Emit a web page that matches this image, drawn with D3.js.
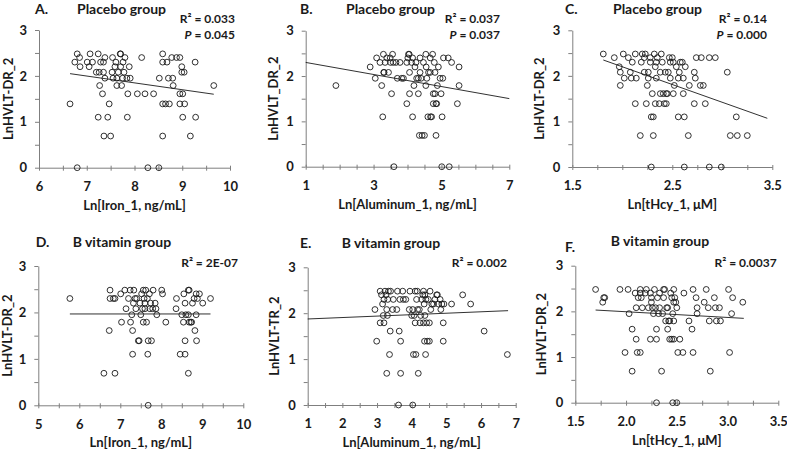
<!DOCTYPE html>
<html><head><meta charset="utf-8">
<script src="https://cdn.jsdelivr.net/npm/d3@7"></script>
<style>
html,body{margin:0;padding:0;background:#fff;}
svg text{font-family:Lato,"Open Sans",sans-serif;font-weight:bold;fill:#1a1a1a;}
</style></head>
<body>
<svg id="chart" width="787" height="449"></svg>
<script>
// ---------- DATA ----------
const panelLetters = ["A.", "B.", "C.", "D.", "E.", "F."];
const groupTitles = ["Placebo group", "Placebo group", "Placebo group", "B vitamin group", "B vitamin group", "B vitamin group"];
const yLabels = ["LnHVLT-DR_2", "LnHVLT_DR_2", "LnHVLT-DR_2", "LnHVLT-DR_2", "LnHVLT-TR_2", "LnHVLT-DR_2"];
const xLabels = ["Ln[Iron_1, ng/mL]", "Ln[Aluminum_1, ng/mL]", "Ln[tHcy_1, \u03bcM]", "Ln[Iron_1, ng/mL]", "Ln[Aluminum_1, ng/mL]", "Ln[tHcy_1, \u03bcM]"];
const r2Labels = ["0.033", "0.037", "0.14", "2E-07", "0.002", "0.0037"];
const pLabels = ["0.045", "0.037", "0.000", null, null, null];

const xDomains = [[6, 10], [1, 7], [1.5, 3.5], [5, 10], [1, 7], [1.5, 3.5]];
const xMajorTicks = [[6, 7, 8, 9, 10], [1, 3, 5, 7], [1.5, 2.5, 3.5], [5, 6, 7, 8, 9, 10], [1, 2, 3, 4, 5, 6, 7], [1.5, 2.0, 2.5, 3.0, 3.5]];
const xTickFormats = [".0f", ".0f", ".1f", ".0f", ".0f", ".1f"];
const xMinorSteps = [0.5, 0.5, 0.25, 0.5, 0.5, 0.25];
const yDomain = [0, 3];
const yMajorTicks = [0, 1, 2, 3];
const yMinorTicks = [0, 0.5, 1, 1.5, 2, 2.5, 3];

// fitted regression lines: intercept, slope, x-range
const fitIntercepts = [3.04, 2.433, 3.76, 1.967, 1.843, 2.241];
const fitSlopes = [-0.149, -0.133, -0.78, 0, 0.0313, -0.1247];
const fitRanges = [[6.65, 9.66], [1, 7], [1.81, 3.45], [5.77, 9.20], [1, 6.78], [1.70, 3.16]];

const placeboIron = [[6.65,1.39],[6.80,0],[6.80,2.48],[6.85,2.40],[6.75,2.30],[6.86,2.20],[7.01,2.30],[7.07,2.48],[7.05,2.20],[7.12,2.30],[7.24,2.48],[7.26,2.08],[7.29,2.30],[7.27,1.79],[7.24,1.10],[7.33,1.61],[7.35,2.08],[7.36,0.69],[7.38,2.40],[7.38,1.95],[7.35,2.30],[7.44,1.10],[7.47,1.39],[7.50,0.69],[7.53,2.08],[7.54,2.40],[7.55,1.95],[7.59,2.20],[7.61,2.30],[7.63,1.95],[7.63,1.79],[7.66,2.08],[7.71,2.48],[7.71,2.20],[7.73,1.79],[7.75,1.95],[7.76,2.30],[7.78,2.08],[7.80,2.40],[7.84,1.95],[7.85,1.10],[7.86,1.61],[7.89,2.20],[7.91,1.95],[8.06,1.61],[8.15,2.40],[8.22,1.61],[8.28,0],[8.40,1.61],[8.51,0],[8.52,1.95],[8.59,2.48],[8.59,2.30],[8.59,1.39],[8.59,0.69],[8.65,1.39],[8.68,2.30],[8.73,1.39],[8.71,1.95],[8.78,2.40],[8.80,1.95],[8.81,1.79],[8.88,2.40],[8.95,2.40],[8.95,1.61],[8.95,1.39],[8.99,2.20],[8.99,2.08],[9.01,1.61],[9.01,1.10],[9.04,2.08],[9.05,1.39],[9.17,0.69],[9.27,2.30],[9.28,1.10],[9.66,1.79],[7.20,2.08],[7.70,2.48]];

const placeboAluminum = [[1.89,1.79],[2.90,2.20],[3.05,1.95],[3.09,2.40],[3.19,2.30],[3.24,1.79],[3.27,1.10],[3.29,2.48],[3.31,2.08],[3.34,2.30],[3.39,2.40],[3.44,2.08],[3.49,2.40],[3.50,2.30],[3.53,1.61],[3.56,2.48],[3.60,0],[3.58,2.30],[3.66,2.30],[3.70,1.95],[3.78,2.30],[3.83,1.95],[3.88,1.95],[3.98,1.39],[4.01,2.40],[4.03,2.48],[3.98,2.30],[4.06,2.08],[4.06,1.61],[4.12,2.30],[4.15,2.40],[4.15,1.10],[4.19,1.79],[4.22,2.20],[4.25,2.30],[4.27,1.95],[4.32,1.61],[4.32,1.95],[4.35,0.69],[4.37,2.08],[4.37,2.40],[4.40,1.95],[4.43,0.69],[4.47,2.30],[4.50,0.69],[4.54,2.48],[4.54,1.79],[4.55,2.20],[4.57,1.95],[4.60,1.10],[4.62,2.08],[4.67,2.08],[4.67,2.40],[4.68,1.10],[4.71,1.10],[4.74,2.48],[4.76,1.61],[4.76,1.39],[4.79,2.30],[4.81,1.61],[4.81,2.08],[4.84,1.39],[4.84,0.69],[4.86,1.39],[4.88,1.79],[4.91,2.20],[4.96,1.95],[4.99,1.61],[5.01,0],[5.02,1.10],[5.04,1.95],[5.06,2.40],[5.20,2.40],[5.23,0],[5.30,2.30],[5.47,1.39],[5.52,2.20],[5.52,1.79],[3.30,2.08],[4.05,2.48]];

const placeboHcy = [[1.81,2.48],[1.92,2.40],[1.97,2.20],[1.98,2.08],[1.98,1.79],[2.01,2.48],[2.02,1.95],[2.06,2.40],[2.08,2.08],[2.09,1.95],[2.10,2.30],[2.13,2.48],[2.13,1.39],[2.14,1.95],[2.18,0.69],[2.19,2.30],[2.20,2.48],[2.22,2.08],[2.22,2.40],[2.23,2.48],[2.24,1.39],[2.25,1.79],[2.26,2.08],[2.26,1.95],[2.28,2.30],[2.28,2.40],[2.29,1.10],[2.29,0],[2.30,1.61],[2.31,1.10],[2.31,0.69],[2.32,2.48],[2.33,2.20],[2.33,1.39],[2.34,2.30],[2.34,1.95],[2.35,2.40],[2.37,1.39],[2.38,1.61],[2.38,2.08],[2.39,2.48],[2.40,2.30],[2.41,1.61],[2.42,1.39],[2.43,2.08],[2.44,1.39],[2.44,1.61],[2.45,1.61],[2.46,2.08],[2.47,2.40],[2.48,2.30],[2.48,1.95],[2.50,2.40],[2.51,2.30],[2.51,1.61],[2.52,1.79],[2.54,2.20],[2.56,1.95],[2.56,1.10],[2.57,2.08],[2.58,2.30],[2.60,2.30],[2.61,1.95],[2.61,1.61],[2.62,0],[2.62,1.10],[2.63,2.20],[2.66,0.69],[2.67,1.79],[2.72,1.39],[2.72,2.08],[2.73,1.95],[2.74,2.40],[2.78,1.79],[2.79,2.40],[2.81,1.79],[2.83,1.39],[2.87,0],[2.87,2.40],[2.93,2.40],[2.99,0],[3.05,2.08],[3.08,0.69],[3.14,1.10],[3.15,0.69],[3.25,0.69]];

const vitaminIron = [[5.77,2.30],[6.60,0.69],[6.73,1.61],[6.75,2.48],[6.75,2.30],[6.83,2.30],[6.87,0.69],[6.87,2.30],[7.01,2.40],[7.03,1.79],[7.11,2.48],[7.14,2.08],[7.20,2.30],[7.24,2.48],[7.25,1.79],[7.28,1.95],[7.30,1.61],[7.30,1.10],[7.32,2.20],[7.33,2.48],[7.36,2.30],[7.38,2.08],[7.40,2.30],[7.44,1.39],[7.46,1.39],[7.48,2.20],[7.50,1.95],[7.52,2.40],[7.54,2.08],[7.56,2.48],[7.56,1.79],[7.58,2.30],[7.60,2.20],[7.60,2.08],[7.62,2.48],[7.64,1.79],[7.66,2.30],[7.67,1.10],[7.68,0],[7.68,1.39],[7.71,2.40],[7.72,2.08],[7.74,2.20],[7.76,1.39],[7.79,2.08],[7.80,2.48],[7.85,2.20],[7.87,2.08],[7.89,1.95],[8.01,2.48],[8.03,2.40],[8.11,1.79],[8.36,2.08],[8.37,2.30],[8.46,1.10],[8.50,1.95],[8.54,1.79],[8.55,2.40],[8.58,1.10],[8.58,1.39],[8.58,2.20],[8.60,1.95],[8.66,2.48],[8.68,2.48],[8.66,0.69],[8.66,1.95],[8.68,1.79],[8.72,1.79],[8.74,1.79],[8.76,2.20],[8.80,2.30],[8.82,1.61],[8.85,1.95],[8.85,2.40],[8.86,1.39],[8.88,2.30],[8.93,2.40],[9.01,2.20],[9.20,2.30]];

const vitaminAluminum = [[2.94,2.08],[2.99,1.39],[3.09,1.79],[3.09,2.48],[3.13,2.40],[3.16,2.20],[3.18,1.95],[3.20,1.79],[3.20,2.30],[3.23,2.48],[3.26,2.40],[3.28,0.69],[3.28,2.08],[3.30,1.95],[3.31,2.30],[3.33,2.48],[3.36,1.10],[3.38,1.61],[3.39,2.48],[3.45,2.08],[3.47,2.30],[3.57,2.08],[3.59,2.48],[3.62,0],[3.64,1.61],[3.66,2.30],[3.68,1.39],[3.68,0.69],[3.74,2.48],[3.76,2.30],[3.83,2.30],[3.93,2.08],[3.95,2.48],[4.00,1.95],[4.03,2.08],[4.10,1.79],[4.03,0],[4.05,1.10],[4.07,1.95],[4.10,2.48],[4.12,1.10],[4.14,2.30],[4.16,2.48],[4.17,2.08],[4.19,0.69],[4.22,2.08],[4.24,1.79],[4.26,1.95],[4.29,2.30],[4.32,2.40],[4.34,2.48],[4.34,1.79],[4.36,2.20],[4.37,1.39],[4.38,1.95],[4.38,2.40],[4.40,1.10],[4.41,2.30],[4.43,1.79],[4.45,1.39],[4.48,2.30],[4.51,1.79],[4.51,1.39],[4.53,2.48],[4.55,2.08],[4.58,2.20],[4.63,2.20],[4.67,2.30],[4.72,2.40],[4.74,2.40],[4.77,2.20],[4.82,2.30],[4.84,2.08],[4.87,2.20],[4.91,1.79],[4.91,1.39],[4.93,2.20],[5.15,2.20],[5.47,2.40],[5.70,2.20],[6.09,1.61],[6.76,1.10]];

const vitaminHcy = [[1.70,2.48],[1.77,2.20],[1.78,2.30],[1.79,2.30],[1.94,2.48],[1.99,1.10],[2.02,2.48],[2.03,1.95],[2.06,1.61],[2.06,0.69],[2.09,2.40],[2.10,1.39],[2.10,2.08],[2.11,1.10],[2.12,2.30],[2.14,2.48],[2.14,2.40],[2.14,1.10],[2.15,2.30],[2.16,2.08],[2.19,2.40],[2.20,2.48],[2.22,2.08],[2.24,1.39],[2.24,2.40],[2.25,2.20],[2.25,2.30],[2.26,2.08],[2.27,1.95],[2.28,2.48],[2.29,2.08],[2.30,1.61],[2.30,1.39],[2.30,0],[2.31,2.30],[2.32,1.95],[2.33,2.40],[2.33,2.08],[2.35,0.69],[2.36,1.95],[2.37,2.48],[2.37,2.30],[2.38,2.48],[2.39,1.79],[2.40,2.08],[2.41,2.08],[2.41,1.61],[2.42,1.79],[2.43,1.79],[2.43,1.39],[2.44,2.40],[2.45,2.30],[2.45,1.39],[2.46,0],[2.46,1.95],[2.47,2.48],[2.47,2.20],[2.47,1.79],[2.47,1.39],[2.48,2.30],[2.49,2.20],[2.50,2.08],[2.50,0],[2.51,1.10],[2.53,1.39],[2.56,1.10],[2.57,2.40],[2.62,1.79],[2.65,1.61],[2.66,1.10],[2.66,2.48],[2.69,2.30],[2.70,2.08],[2.70,1.95],[2.77,2.20],[2.79,2.48],[2.81,2.08],[2.82,1.79],[2.83,0.69],[2.87,2.30],[2.88,2.08],[2.89,1.79],[2.92,2.08],[2.93,1.79],[3.01,2.48],[3.02,1.10],[3.05,2.30],[3.04,1.95],[3.15,2.20]];

const panelData = [placeboIron, placeboAluminum, placeboHcy, vitaminIron, vitaminAluminum, vitaminHcy];

// ---------- LAYOUT ----------
const boxes = [
  {l: 39, r: 230, t: 30, b: 167.7},
  {l: 305.7, r: 509.3, t: 30.7, b: 166.7},
  {l: 572.3, r: 772.3, t: 30.3, b: 167},
  {l: 38.3, r: 243.3, t: 266, b: 405.3},
  {l: 307.7, r: 515.7, t: 267.3, b: 405},
  {l: 575.3, r: 778.3, t: 265.7, b: 402.7}
];
const titleLayout = [
  {lx: 35, px: 77, ly: 14, py: 14, r2x: 235, r2y: 22.5, yl: 12.5},
  {lx: 300, px: 346, ly: 14, py: 14, r2x: 500, r2y: 23, yl: 278},
  {lx: 565, px: 613, ly: 14, py: 14, r2x: 767, r2y: 22.5, yl: 544},
  {lx: 35.7, px: 72.7, ly: 246.5, py: 246.5, r2x: 238, r2y: 267, yl: 12},
  {lx: 300, px: 341.7, ly: 248, py: 248, r2x: 507, r2y: 267, yl: 279},
  {lx: 565, px: 610.7, ly: 251.5, py: 245.5, r2x: 776.7, r2y: 267, yl: 545.5}
];
const axisColor = "#7f7f7f";

const svg = d3.select("#chart");

panelData.forEach((pts, i) => {
  const b = boxes[i], L = titleLayout[i];
  const x = d3.scaleLinear().domain(xDomains[i]).range([b.l, b.r]);
  const y = d3.scaleLinear().domain(yDomain).range([b.b, b.t]);
  const g = svg.append("g");

  // minor x ticks + axis line
  const minor = d3.range(xDomains[i][0], xDomains[i][1] + 1e-9, xMinorSteps[i]);
  const gx = g.append("g").attr("transform", `translate(0,${b.b})`)
    .call(d3.axisBottom(x).tickValues(minor).tickSize(3).tickSizeOuter(0).tickFormat(""));
  gx.select(".domain").attr("stroke", axisColor);
  gx.selectAll(".tick line").attr("stroke", axisColor).attr("y1", -2).attr("y2", 3);
  // x labels
  const gxl = g.append("g").attr("transform", `translate(0,${b.b})`)
    .call(d3.axisBottom(x).tickValues(xMajorTicks[i]).tickSize(0).tickPadding(14).tickFormat(d3.format(xTickFormats[i])));
  gxl.select(".domain").remove();
  gxl.selectAll("text").attr("font-size", 13).attr("font-family", "Lato, sans-serif").attr("font-weight", "bold").attr("fill", "#1a1a1a");

  // y axis
  const gy = g.append("g").attr("transform", `translate(${b.l},0)`)
    .call(d3.axisLeft(y).tickValues(yMinorTicks).tickSize(4).tickSizeOuter(0).tickFormat(""));
  gy.select(".domain").attr("stroke", axisColor);
  gy.selectAll(".tick line").attr("stroke", axisColor);
  const gyl = g.append("g").attr("transform", `translate(${b.l},0)`)
    .call(d3.axisLeft(y).tickValues(yMajorTicks).tickSize(0).tickPadding(12).tickFormat(d3.format("d")));
  gyl.select(".domain").remove();
  gyl.selectAll("text").attr("font-size", 13).attr("font-family", "Lato, sans-serif").attr("font-weight", "bold").attr("fill", "#1a1a1a");

  // points
  g.append("g").selectAll("circle").data(pts).join("circle")
    .attr("cx", d => x(d[0])).attr("cy", d => y(d[1])).attr("r", 2.9)
    .attr("fill", "none").attr("stroke", "#1a1a1a").attr("stroke-width", 0.9);

  // fit line
  const fr = fitRanges[i];
  g.append("line")
    .attr("x1", x(fr[0])).attr("y1", y(fitIntercepts[i] + fitSlopes[i] * fr[0]))
    .attr("x2", x(fr[1])).attr("y2", y(fitIntercepts[i] + fitSlopes[i] * fr[1]))
    .attr("stroke", "#1a1a1a").attr("stroke-width", 0.9);

  // titles
  g.append("text").attr("x", L.lx).attr("y", L.ly).attr("font-size", 14).text(panelLetters[i]);
  g.append("text").attr("x", L.px).attr("y", L.py).attr("font-size", 14).text(groupTitles[i]);

  // R2 and P
  g.append("text").attr("x", L.r2x).attr("y", L.r2y).attr("font-size", 12).attr("text-anchor", "end")
    .text("R\u00b2 = " + r2Labels[i]);
  if (pLabels[i]) {
    const t = g.append("text").attr("x", L.r2x).attr("y", L.r2y + 16).attr("font-size", 12).attr("text-anchor", "end");
    t.append("tspan").attr("font-style", "italic").text("P");
    t.append("tspan").text(" = " + pLabels[i]);
  }

  // axis titles
  g.append("text").attr("font-size", 13).attr("text-anchor", "middle")
    .attr("transform", `translate(${L.yl},${(b.t + b.b) / 2}) rotate(-90)`)
    .text(yLabels[i]);
  g.append("text").attr("font-size", 13).attr("text-anchor", "middle")
    .attr("x", (b.l + b.r) / 2).attr("y", b.b + 42)
    .text(xLabels[i]);
});
</script>
</body></html>
